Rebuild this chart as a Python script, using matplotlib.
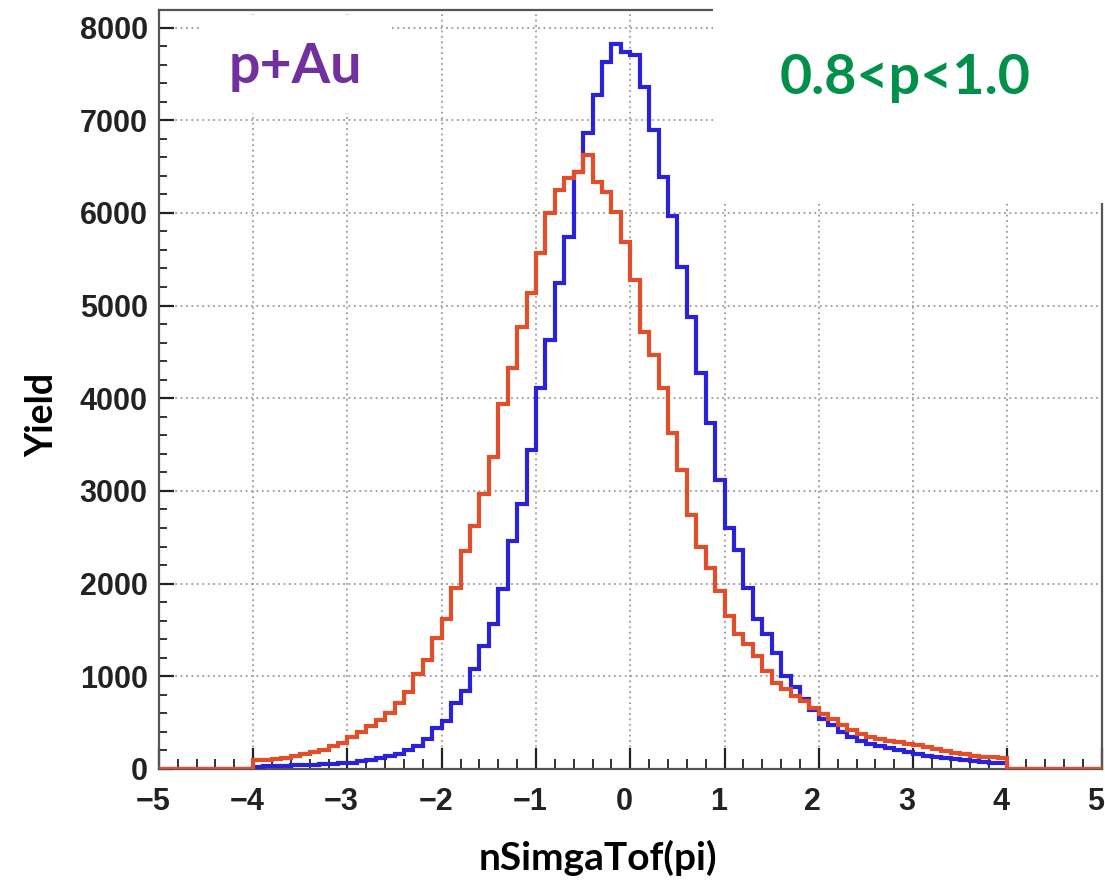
import numpy as np
import matplotlib
matplotlib.use("Agg")
import matplotlib.pyplot as plt
from matplotlib.patches import Rectangle
from matplotlib.ticker import MultipleLocator
from matplotlib.transforms import ScaledTranslation

# histogram: 0.1 wide bins from -4 to 4 (outside that range the counts are 0)
bin_lo = -4.0
bin_w = 0.1
blue_counts = [
    25, 28, 30, 35, 38, 42, 47, 52, 56, 60,
    70, 85, 100, 120, 140, 165, 200, 250, 320, 446,
    518, 715, 841, 1075, 1327, 1561, 1938, 2460, 2860, 3443,
    4108, 4630, 5241, 5745, 6446, 6860, 7273, 7633, 7820, 7741,
    7705, 7363, 6896, 6392, 5961, 5421, 4881, 4270, 3730, 3119,
    2600, 2360, 1950, 1620, 1460, 1256, 1000, 880, 760, 640,
    540, 470, 400, 350, 300, 270, 245, 225, 200, 185,
    160, 145, 125, 115, 105, 95, 85, 75, 65, 60,
]
red_counts = [
    100, 95, 105, 120, 140, 160, 180, 210, 245, 285,
    340, 395, 465, 525, 600, 710, 830, 1030, 1180, 1417,
    1615, 1956, 2352, 2621, 2963, 3369, 3934, 4329, 4770, 5133,
    5565, 5997, 6248, 6374, 6439, 6626, 6338, 6230, 6014, 5691,
    5277, 4720, 4468, 4108, 3622, 3227, 2741, 2400, 2172, 1920,
    1650, 1453, 1345, 1219, 1057, 931, 859, 787, 733, 661,
    588, 534, 480, 420, 375, 345, 320, 305, 290, 272,
    258, 235, 218, 192, 172, 158, 145, 133, 126, 120,
]
x_range = (-5, 5)
y_max = 8190

system_label = "p+Au"
mom_label = "0.8<p<1.0"
x_title = "nSimgaTof(pi)"
y_title = "Yield"

# full -5..5 histogram, zero padded
edges = np.round(np.arange(x_range[0], x_range[1] + bin_w / 2, bin_w), 3)
n_pad = int(round((bin_lo - x_range[0]) / bin_w))


def padded(c):
    out = np.zeros(len(edges) - 1)
    out[n_pad:n_pad + len(c)] = c
    return out


fig = plt.figure(figsize=(11.05, 8.92), dpi=100)
ax = fig.add_axes([0.1437, 0.1379, 0.8534, 0.851])

ax.stairs(padded(blue_counts), edges, color="#2a22d8", lw=3, zorder=3)
ax.stairs(padded(red_counts), edges, color="#e24e2a", lw=3, zorder=4)

ax.set_xlim(*x_range)
ax.set_ylim(0, y_max)
ax.xaxis.set_major_locator(MultipleLocator(1))
ax.xaxis.set_minor_locator(MultipleLocator(0.2))
ax.yaxis.set_major_locator(MultipleLocator(1000))
ax.yaxis.set_minor_locator(MultipleLocator(200))

ax.grid(True, which="major", color="#9a9a9a", lw=1.3, ls=(0, (1, 2)))
ax.tick_params(axis="x", which="major", direction="in", length=15, width=1.6,
               pad=13, labelsize=22, colors="#222222")
ax.tick_params(axis="x", which="minor", direction="in", length=7.5, width=1.3,
               colors="#222222")
ax.tick_params(axis="y", which="major", direction="in", length=11, width=1.6,
               pad=8, labelsize=22, colors="#222222")
ax.tick_params(axis="y", which="minor", direction="in", length=5.5, width=1.3,
               colors="#222222")
shift = ScaledTranslation(-6 / 100, 0, fig.dpi_scale_trans)
for lab in ax.get_xticklabels():
    lab.set_transform(lab.get_transform() + shift)
for lab in ax.get_xticklabels() + ax.get_yticklabels():
    lab.set_fontfamily("Liberation Sans")
    lab.set_fontweight("bold")
for s in ax.spines.values():
    s.set_color("#555555")
    s.set_linewidth(1.6)

# white boxes pasted over the frame for the annotations
fig.patches.append(Rectangle((0.645, 0.7724), 0.355, 0.2276, transform=fig.transFigure,
                             facecolor="white", edgecolor="none", zorder=1))
fig.patches.append(Rectangle((0.181, 0.8733), 0.174, 0.110, transform=fig.transFigure,
                             facecolor="white", edgecolor="none", zorder=1))

fig.text(0.267, 0.925, system_label, color="#7030a0", fontsize=40,
         fontweight="bold", family="Lato", ha="center", va="center", zorder=5)
fig.text(0.819, 0.912, mom_label, color="#00904a", fontsize=40,
         fontweight="bold", family="Lato", ha="center", va="center", zorder=5)

fig.text(0.541, 0.038, x_title, fontsize=28, fontweight="bold", family="Lato",
         ha="center", va="center")
fig.text(0.038, 0.535, y_title, fontsize=27, fontweight="bold", family="Lato",
         ha="center", va="center", rotation=90)

fig.savefig("out.png", dpi=100)
